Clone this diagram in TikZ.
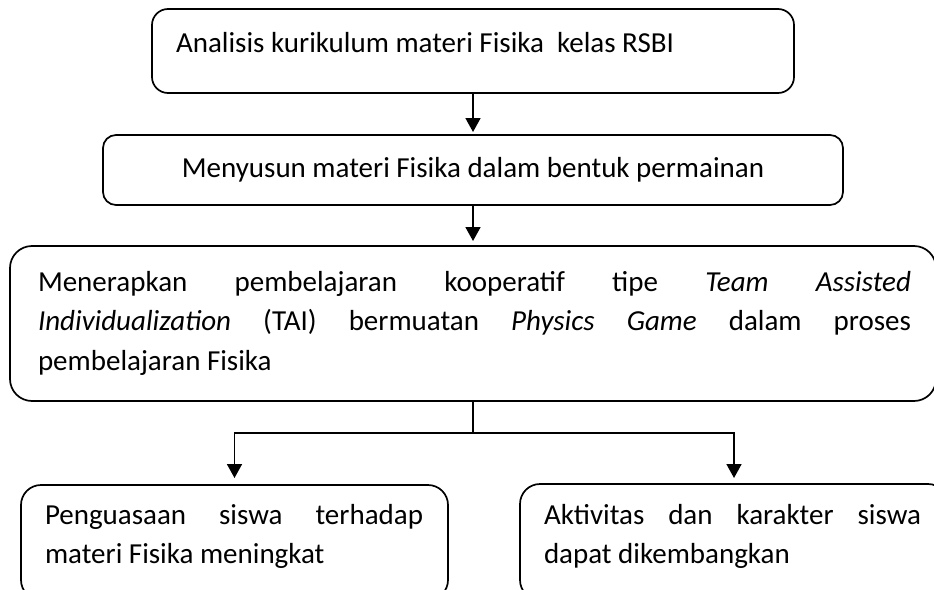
\documentclass[tikz,border=0pt]{standalone}
\usepackage{fontspec}
\setmainfont{Carlito}
\usetikzlibrary{arrows.meta}
\begin{document}
\begin{tikzpicture}[x=1pt,y=-1pt,
  box/.style={draw=black, line width=1.7pt, inner sep=0pt, outer sep=0pt},
  conn/.style={draw=black, line width=1.7pt},
  arr/.style={conn, -{Triangle[width=15pt,length=14pt]}},
  txt/.style={inner sep=0pt, outer sep=0pt, text=black, font=\fontsize{29}{39.5}\selectfont},
  smalltxt/.style={txt, font=\fontsize{29}{39}\selectfont}
]
\useasboundingbox (0,0) rectangle (934,589);
% boxes
\node[box, rounded corners=16pt, minimum width=642pt, minimum height=84pt] (b1) at (473,51) {};
\node[box, rounded corners=13pt, minimum width=740pt, minimum height=70pt] (b2) at (473,170) {};
\node[box, rounded corners=22pt, minimum width=926pt, minimum height=155pt] (b3) at (473,323.5) {};
\node[box, rounded corners=20pt, minimum width=427pt, minimum height=115pt] (b4) at (234.5,542.5) {};
\node[box, rounded corners=20pt, minimum width=428pt, minimum height=116pt] (b5) at (734,542) {};
% texts
\node[txt, anchor=base west] (t1) at (176,52) {Analisis kurikulum materi Fisika\ \ kelas RSBI};
\node[txt, anchor=base] (t2) at (473,177) {Menyusun materi Fisika dalam bentuk permainan};
\node[txt, anchor=base west, text width=873pt, align=justify] (t3) at (38,291)
  {Menerapkan pembelajaran kooperatif tipe \textit{Team} \textit{Assisted}\linebreak
   \textit{Individualization} (TAI) bermuatan \textit{Physics} \textit{Game} dalam proses\linebreak
   pembelajaran Fisika};
\node[smalltxt, anchor=base west, text width=378pt, align=justify] (t4) at (45,524)
  {Penguasaan siswa terhadap\linebreak materi Fisika meningkat};
\node[smalltxt, anchor=base west, text width=377pt, align=justify] (t5) at (544,524)
  {Aktivitas dan karakter siswa\linebreak dapat dikembangkan};
% connectors
\draw[arr, shorten >=3pt] (b1.south) -- (b2.north);
\draw[arr, shorten >=5pt] (b2.south) -- (b3.north);
\coordinate (split) at (473,433);
\draw[conn] (b3.south) -- (split);
\draw[arr, shorten >=7pt] (split) -| (b4.north);
\draw[arr, shorten >=6pt] (split) -| (b5.north);
\end{tikzpicture}
\end{document}
